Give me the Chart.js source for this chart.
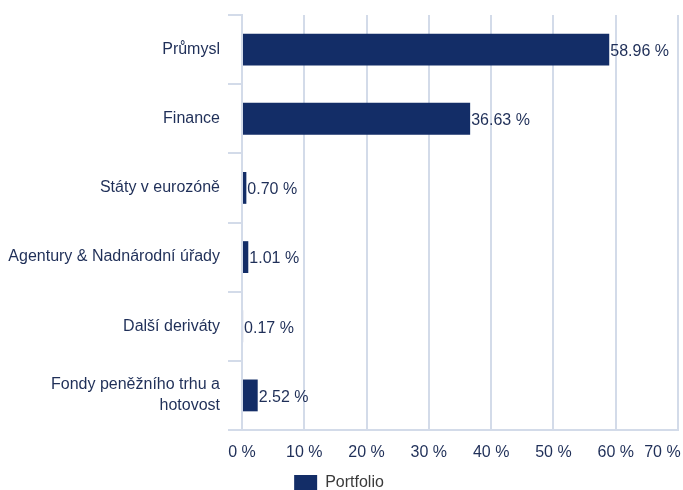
<!DOCTYPE html>
<html>
<head>
<meta charset="utf-8">
<script src="https://cdn.jsdelivr.net/npm/chart.js@4/dist/chart.umd.min.js"></script>
<style>
  html, body { margin: 0; padding: 0; background: #fff; overflow: hidden; }
  #wrap { width: 683px; height: 501px; }
</style>
</head>
<body>
<div id="wrap"><canvas id="c" width="683" height="501"></canvas></div>
<script>
const categories = [
  'Průmysl',
  'Finance',
  'Státy v eurozóně',
  'Agentury & Nadnárodní úřady',
  'Další deriváty',
  ['Fondy peněžního trhu a', 'hotovost']
];
const portfolio = [58.96, 36.63, 0.70, 1.01, 0.17, 2.52];
const seriesName = 'Portfolio';
const xTicks = [0, 10, 20, 30, 40, 50, 60, 70];

const navy = '#132d67';
const textNavy = '#1f2f58';
const gridCol = '#d3dbe9';

Chart.defaults.font.family = '"Liberation Sans", Arial, Helvetica, sans-serif';
Chart.defaults.font.size = 16;

// draws "58.96 %" right after each bar end
const barValues = {
  id: 'barValues',
  afterDatasetsDraw(chart) {
    const ctx = chart.ctx;
    const meta = chart.getDatasetMeta(0);
    ctx.save();
    ctx.font = '16px "Liberation Sans", Arial, sans-serif';
    ctx.fillStyle = textNavy;
    ctx.textAlign = 'left';
    ctx.textBaseline = 'middle';
    meta.data.forEach((el, i) => {
      ctx.fillText(portfolio[i].toFixed(2) + ' %', el.x + 1, el.y + 2);
    });
    ctx.restore();
  }
};

new Chart(document.getElementById('c'), {
  type: 'bar',
  data: {
    labels: categories,
    datasets: [{
      label: seriesName,
      data: portfolio,
      backgroundColor: navy,
      borderWidth: 0,
      categoryPercentage: 1,
      barPercentage: 0.46
    }]
  },
  options: {
    indexAxis: 'y',
    responsive: false,
    animation: false,
    layout: { padding: { top: 15, right: 5, left: 0, bottom: 0 } },
    plugins: {
      tooltip: { enabled: false },
      legend: {
        position: 'bottom',
        labels: {
          boxWidth: 23,
          boxHeight: 16,
          padding: 13,
          color: '#3a3a3a',
          font: { size: 16 }
        }
      }
    },
    scales: {
      x: {
        min: 0,
        max: 70,
        afterBuildTicks(s) { s.ticks = xTicks.map(v => ({ value: v })); },
        afterFit(s) { s.paddingRight = 0; s.paddingLeft = 0; s.height = 32; },
        grid: { color: gridCol, lineWidth: 2, drawTicks: false },
        border: { display: true, color: gridCol, width: 2 },
        ticks: {
          padding: 13,
          color: textNavy,
          maxRotation: 0,
          autoSkip: false,
          callback: v => v === 70 ? v + ' %       ' : v + ' %'
        }
      },
      y: {
        afterFit(s) { s.width = 242; s.paddingTop = 0; s.paddingBottom = 0; },
        grid: { offset: true, drawOnChartArea: false, drawTicks: true, tickLength: 14, color: gridCol, lineWidth: 2 },
        border: { display: true, color: gridCol, width: 2 },
        ticks: { padding: 8, color: textNavy, font: { size: 16, lineHeight: 1.3 } }
      }
    }
  },
  plugins: [barValues]
});
</script>
</body>
</html>
